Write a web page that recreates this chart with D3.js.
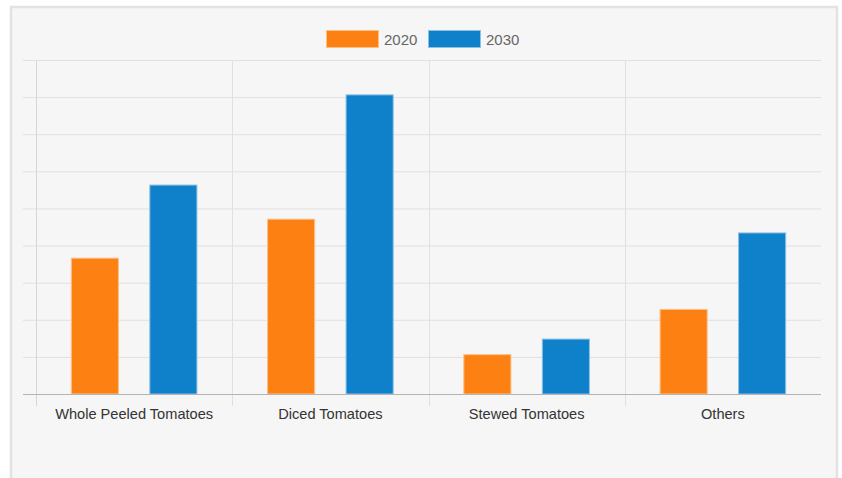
<!DOCTYPE html>
<html>
<head>
<meta charset="utf-8">
<script src="https://cdn.jsdelivr.net/npm/d3@7"></script>
<style>
  body { margin: 0; background: #fff; }
  svg { display: block; font-family: "Liberation Sans", Arial, sans-serif; }
</style>
</head>
<body>
<div class="canvas"></div>
<script>
const categories = ['Whole Peeled Tomatoes', 'Diced Tomatoes', 'Stewed Tomatoes', 'Others'];
const seriesNames = ['2020', '2030'];
const values2020 = [3.66, 4.71, 1.06, 2.28];
const values2030 = [5.63, 8.06, 1.48, 4.34];
const yTicks = [0, 1, 2, 3, 4, 5, 6, 7, 8, 9];
const colors = ['#fd8112', '#0f80ca'];
const strokes = ['#fbc08a', '#8cc0e4'];

const width = 842, height = 478;
const padL = 36, padR = 821, padT = 60, padB = 394;

const rows = categories.map((c, i) => ({ cat: c, vals: [values2020[i], values2030[i]] }));

const svg = d3.select('.canvas')
    .append('svg')
    .attr('width', width)
    .attr('height', height)
    ;

// panel
svg.append('rect')
    .attr('x', 11).attr('y', 7)
    .attr('width', 826).attr('height', 490)
    .attr('fill', '#f6f6f6')
    .attr('stroke', '#e2e2e2')
    .attr('stroke-width', 2.5)
    ;

const x0 = d3.scaleBand().domain(categories).range([padL, padR]).padding(0);
const x1 = d3.scaleBand().domain(seriesNames)
    .range([x0.bandwidth() * 0.1, x0.bandwidth() * 0.9]).padding(0);
const y = d3.scaleLinear().domain([0, 9]).range([padB, padT]);

// horizontal grid
svg.append('g')
    .attr('transform', `translate(23,0)`)
    .call(d3.axisRight(y).tickValues(yTicks).tickSize(padR - 23).tickFormat(''))
    .call(g => g.select('.domain').remove())
    .call(g => g.selectAll('line').attr('stroke', '#e0e0e0'))
    ;

// vertical grid at category edges
svg.append('g')
    .selectAll('line')
    .data(categories)
    .enter()
    .append('line')
    .attr('x1', d => Math.round(x0(d)) + 0.5)
    .attr('x2', d => Math.round(x0(d)) + 0.5)
    .attr('y1', padT)
    .attr('y2', padB + 12)
    .attr('stroke', (d, i) => i === 0 ? '#d6d6d6' : '#e0e0e0')
    ;

// bars
const bw = x1.bandwidth() * 0.6;
svg.append('g')
    .selectAll('g')
    .data(rows)
    .enter()
    .append('g')
    .attr('transform', d => `translate(${x0(d.cat)},0)`)
    .selectAll('rect')
    .data(d => d.vals.map((v, i) => ({ s: seriesNames[i], v, i })))
    .enter()
    .append('rect')
    .attr('x', d => x1(d.s) + (x1.bandwidth() - bw) / 2)
    .attr('width', bw)
    .attr('y', d => y(d.v))
    .attr('height', d => y(0) - y(d.v))
    .attr('fill', d => colors[d.i])
    .attr('stroke', d => strokes[d.i])
    .attr('stroke-width', 1)
    ;

// baseline
svg.append('line')
    .attr('x1', 23).attr('x2', padR)
    .attr('y1', y(0) + 0.5).attr('y2', y(0) + 0.5)
    .attr('stroke', '#b4b4b4')
    ;

// x labels
svg.append('g')
    .attr('transform', `translate(0,${padB})`)
    .call(d3.axisBottom(x0).tickSize(0).tickPadding(15))
    .call(g => g.select('.domain').remove())
    .call(g => g.selectAll('text')
        .attr('font-size', 14.6)
        .attr('font-family', '"Liberation Sans", Arial, sans-serif')
        .attr('fill', '#333'))
    ;

// legend
const legend = svg.append('g');
const legendX = [326, 428];
seriesNames.forEach((s, i) => {
    legend.append('rect')
        .attr('x', legendX[i] + 0.5).attr('y', 30.5)
        .attr('width', 52).attr('height', 17)
        .attr('fill', colors[i])
        .attr('stroke', strokes[i]);
    legend.append('text')
        .attr('x', legendX[i] + 58).attr('y', 44.5)
        .attr('font-size', 15)
        .attr('fill', '#666')
        .text(s);
});
</script>
</body>
</html>
